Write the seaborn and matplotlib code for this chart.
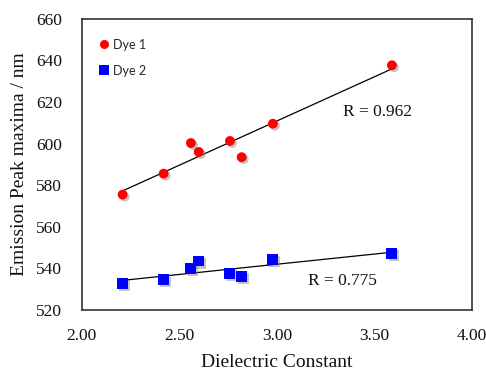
import numpy as np
import pandas as pd
import matplotlib
matplotlib.use("Agg")
import matplotlib.pyplot as plt
import matplotlib.patheffects as pe
import seaborn as sns

dielectric = [2.21, 2.42, 2.56, 2.60, 2.76, 2.82, 2.98, 3.59]
dye1 = [575.5, 585.6, 600.3, 596.0, 601.3, 593.5, 609.6, 637.7]
dye2 = [532.6, 534.5, 540.2, 543.6, 537.4, 536.0, 544.5, 547.2]
series_names = ["Dye 1", "Dye 2"]
r_labels = ["R = 0.962", "R = 0.775"]
x_ticks = [2.00, 2.50, 3.00, 3.50, 4.00]
y_ticks = [520, 540, 560, 580, 600, 620, 640, 660]

df = pd.DataFrame({
    "x": dielectric * 2,
    "y": dye1 + dye2,
    "Dye": [series_names[0]] * len(dye1) + [series_names[1]] * len(dye2),
})

sns.set_theme(style="white")
plt.rcParams["font.family"] = ["Liberation Serif", "DejaVu Serif"]

fig = plt.figure(figsize=(4.86, 3.70), dpi=100)
ax = fig.add_axes([0.168, 0.162, 0.803, 0.787])

shadow = [pe.SimplePatchShadow(offset=(1.5, -1.5), shadow_rgbFace="gray", alpha=0.45), pe.Normal()]

sns.scatterplot(data=df, x="x", y="y", hue="Dye", style="Dye",
                palette={"Dye 1": "#ff0000", "Dye 2": "#0000ff"},
                markers={"Dye 1": "o", "Dye 2": "s"}, s=50, linewidth=0,
                ax=ax, legend=True, zorder=3)
size_map = {"Dye 1": 50, "Dye 2": 62}
for coll in ax.collections:
    coll.set_sizes(np.array([size_map[d] for d in df["Dye"]]))
    coll.set_path_effects(shadow)

# linear trendlines
xs = np.array(dielectric)
for ys in (dye1, dye2):
    m, b = np.polyfit(xs, np.array(ys), 1)
    xl = np.array([xs.min(), xs.max()])
    sns.lineplot(x=xl, y=m * xl + b, color="black", linewidth=0.9, ax=ax, zorder=2)

ax.text(3.34, 615.3, r_labels[0], fontsize=12.5, va="center", ha="left", color="#111111")
ax.text(3.16, 534.0, r_labels[1], fontsize=12.5, va="center", ha="left", color="#111111")

ax.set_xlim(2.0, 4.0)
ax.set_ylim(520, 660)
ax.set_xticks(x_ticks)
ax.set_xticklabels([f"{t:.2f}" for t in x_ticks])
ax.set_yticks(y_ticks)
ax.set_yticklabels([str(t) for t in y_ticks])
ax.tick_params(axis="y", length=0, labelsize=12.5, colors="#111111", pad=14)
ax.tick_params(axis="x", length=0, labelsize=12.5, colors="#111111", pad=13)
ax.set_xlabel("Dielectric Constant", fontsize=14, labelpad=7, color="#111111")
ax.set_ylabel("Emission Peak maxima / nm", fontsize=14, labelpad=6, color="#111111")
for sp in ax.spines.values():
    sp.set_color("#333333")
    sp.set_linewidth(1.2)

leg = ax.legend(loc="upper left", frameon=False, bbox_to_anchor=(0.012, 0.97),
                handletextpad=0.25, handlelength=1.0, labelspacing=1.1, borderaxespad=0.5,
                prop={"family": ["Lato", "DejaVu Sans"], "size": 9})
for h in leg.legend_handles:
    h.set_path_effects([])
    h.set_markersize(6.5)

fig.savefig("out.png", dpi=100)
